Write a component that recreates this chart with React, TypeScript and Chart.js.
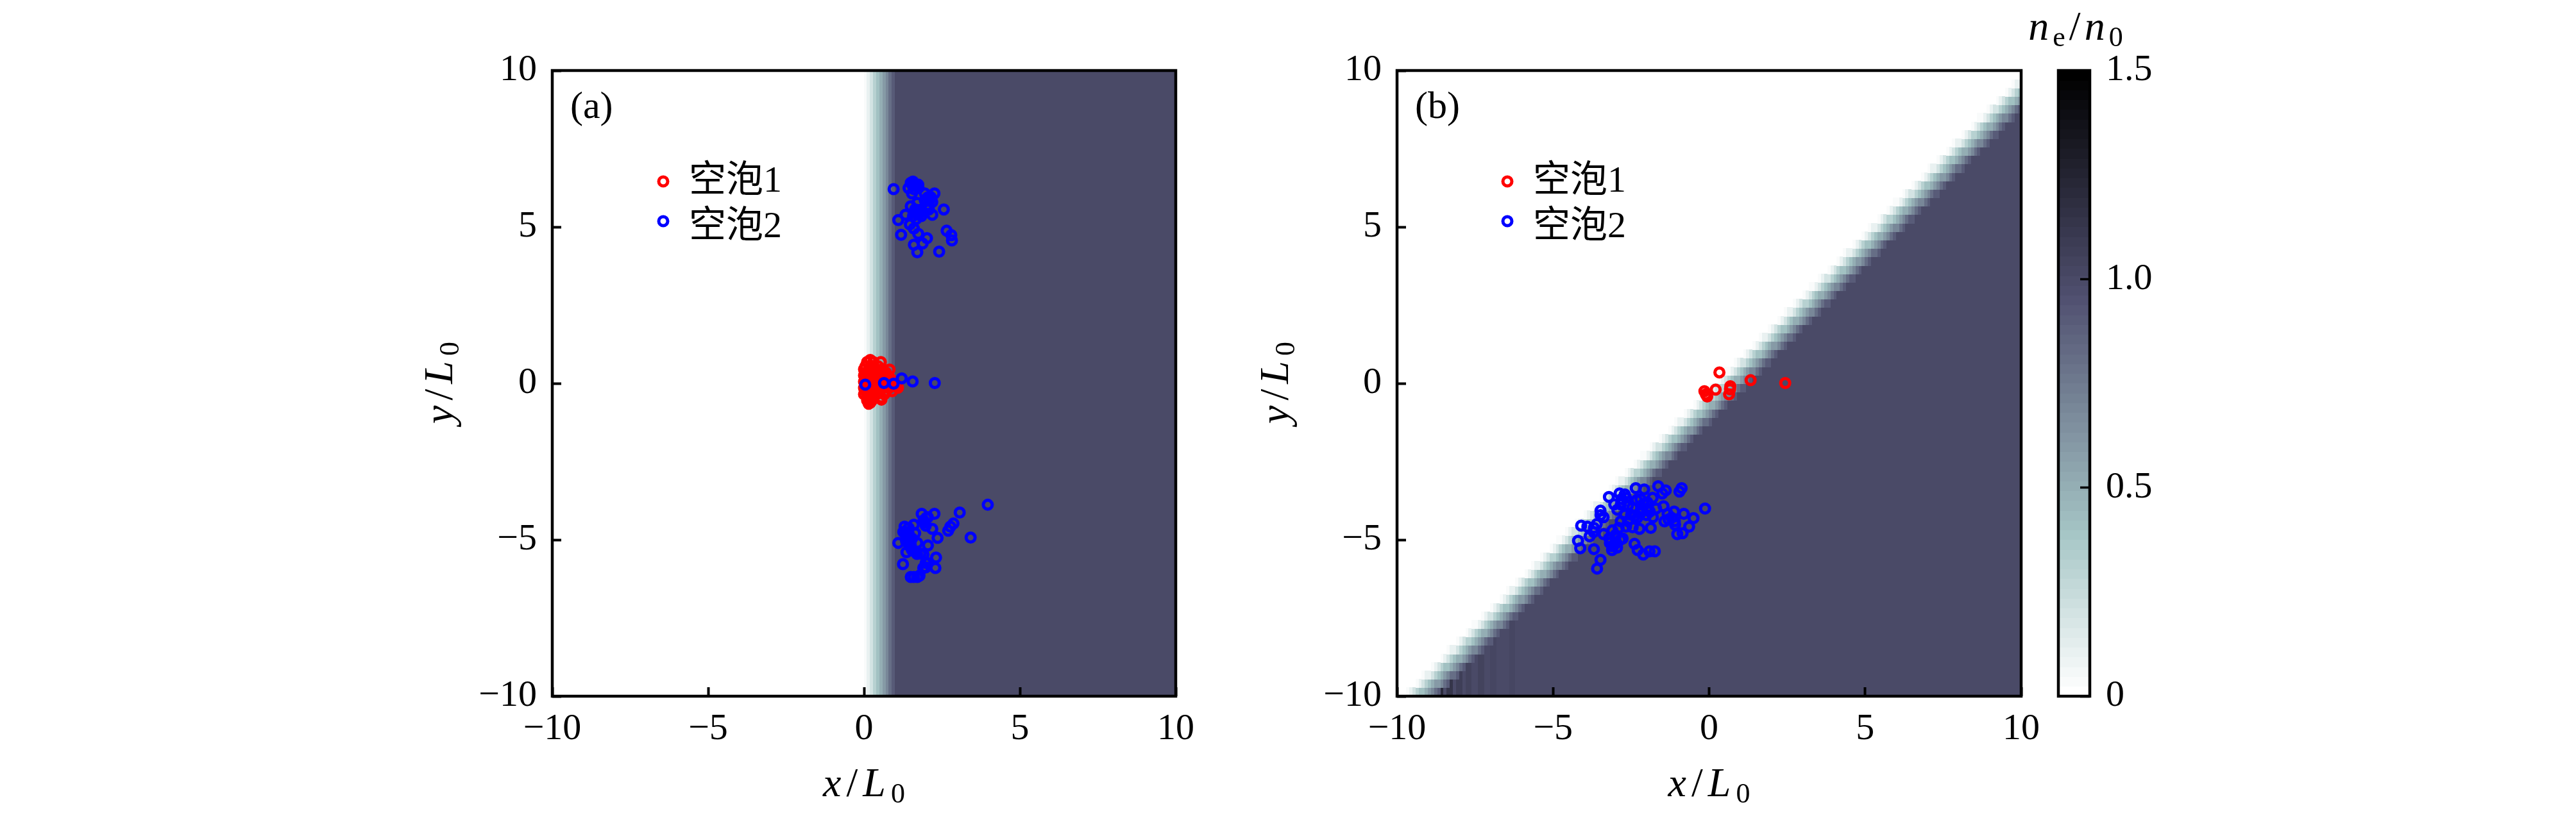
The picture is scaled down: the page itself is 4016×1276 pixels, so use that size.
import React, { useEffect, useRef } from "react";
import { Chart, registerables } from "chart.js";

Chart.register(...registerables);

const SERIF = '"Liberation Serif", "Noto Sans CJK SC", serif';
const legendNames = ["空泡1", "空泡2"];
const legendColors = ["#ff0000", "#0000ff"];
const axisTicks = [-10, -5, 0, 5, 10];
const barTicks = [0, 0.5, 1, 1.5];

// panel (a): bubble 1
const a1X = [0.2, 0.1, 0.3, 0.54, 0.05, 0.25, 0.45, 0.82, 0.0, 0.2, 0.4, 0.6, 0.05, 0.3, 0.5, 0.7, 0.0, 0.15, 0.35, 0.55, 0.75, 0.05, 0.25, 0.45, 0.65, 0.85, 0.0, 0.2, 0.4, 0.6, 0.8, 0.95, 0.05, 0.25, 0.45, 0.65, 0.9, 1.05, 0.0, 0.2, 0.4, 0.6, 0.8, 1.09, 0.05, 0.3, 0.5, 0.7, 0.9, 0.0, 0.2, 0.4, 0.65, 0.1, 0.3, 0.55, 0.1, 0.25, 0.56, 0.15, 0.2];
const a1Y = [0.75, 0.68, 0.68, 0.68, 0.55, 0.55, 0.55, 0.44, 0.45, 0.45, 0.45, 0.45, 0.35, 0.35, 0.35, 0.35, 0.25, 0.25, 0.25, 0.25, 0.25, 0.15, 0.15, 0.15, 0.15, 0.15, 0.05, 0.05, 0.05, 0.05, 0.05, 0.05, -0.05, -0.05, -0.05, -0.05, -0.05, -0.05, -0.15, -0.15, -0.15, -0.15, -0.15, -0.14, -0.25, -0.25, -0.25, -0.25, -0.25, -0.35, -0.35, -0.35, -0.35, -0.45, -0.45, -0.45, -0.55, -0.55, -0.52, -0.65, -0.62];

// panel (a): bubble 2
const a2X = [0.95, 1.5, 1.43, 1.57, 1.67, 1.54, 1.74, 1.95, 2.26, 2.12, 2.19, 1.98, 2.05, 2.56, 2.19, 1.5, 1.64, 1.33, 1.84, 1.57, 1.67, 1.1, 1.47, 1.6, 1.19, 1.74, 2.02, 1.6, 1.88, 1.71, 2.65, 2.8, 2.82, 2.41, 1.84, 2.08, 1.71, 2.15, 1.57, 0.04, 0.64, 0.95, 1.21, 1.56, 2.27, 3.97, 3.07, 3.42, 1.85, 2.26, 2.05, 1.91, 2.87, 2.77, 2.7, 2.19, 2.36, 1.98, 1.6, 1.3, 1.26, 1.43, 1.64, 1.36, 1.54, 1.1, 1.71, 1.5, 2.05, 1.36, 1.64, 1.81, 1.91, 2.31, 1.25, 1.98, 2.29, 1.5, 1.6, 1.71, 1.78, 1.98, 1.54, 1.43, 1.6, 1.62, 1.75, 1.95, 2.05, 2.1, 2.0, 1.8, 1.65, 1.75, 1.35, 1.4, 1.45, 1.35, 1.5, 1.6, 1.7, 1.45, 2.0, 1.95, 2.05, 1.9];
const a2Y = [6.21, 6.41, 6.24, 6.45, 6.31, 6.07, 6.35, 6.07, 6.07, 5.97, 5.8, 5.87, 5.7, 5.56, 5.39, 5.66, 5.56, 5.39, 5.35, 5.35, 5.25, 5.22, 5.08, 4.95, 4.75, 4.78, 4.64, 4.43, 4.47, 4.19, 4.88, 4.74, 4.57, 4.21, 5.49, 5.56, 5.77, 5.94, 6.31, -0.04, 0.01, -0.01, 0.16, 0.06, 0.01, -3.88, -4.13, -4.93, -4.17, -4.17, -4.28, -4.38, -4.48, -4.58, -4.71, -4.65, -4.94, -4.55, -4.52, -4.58, -4.75, -4.79, -4.79, -4.96, -4.96, -5.1, -5.1, -5.16, -5.18, -5.4, -5.37, -5.44, -5.47, -5.57, -5.78, -5.88, -5.9, -6.19, -6.19, -6.19, -6.15, -5.74, -5.33, -4.62, 6.38, 6.2, 6.25, 5.85, 5.95, 5.85, 5.6, 5.55, 5.45, 5.4, -4.75, -4.85, -4.95, -5.05, -5.25, -5.35, -5.45, -5.05, -4.3, -4.45, -5.75, -5.9];

// panel (b): bubble 1
const b1X = [0.33, 1.33, 2.44, -0.15, -0.06, 0.21, 0.68, 0.67, 0.64, -0.1];
const b1Y = [0.35, 0.1, 0.01, -0.25, -0.42, -0.2, -0.09, -0.19, -0.35, -0.35];

// panel (b): bubble 2
const b2X = [-0.13, -0.88, -0.95, -1.63, -1.39, -1.5, -2.35, -2.08, -0.5, -0.81, -0.64, -1.02, -0.85, -1.09, -1.12, -1.46, -1.33, -1.43, -1.81, -1.98, -2.32, -2.46, -2.15, -1.8, -1.87, -2.23, -2.01, -2.39, -2.87, -3.21, -2.66, -3.04, -2.83, -2.94, -3.48, -3.38, -3.48, -4.1, -3.9, -3.69, -3.83, -3.38, -4.2, -4.13, -3.69, -3.48, -3.59, -3.11, -2.97, -2.77, -3.18, -2.9, -2.66, -2.83, -2.39, -2.29, -2.11, -1.91, -1.74, -3.0, -3.07, -2.6, -2.5, -2.3, -2.2, -2.7, -2.0, -1.9, -3.1, -3.0, -2.85, -3.2, -3.1, -2.95, -3.7, -3.6, -2.8, -2.7, -1.7, -1.2, -1.1, -1.3, -2.6, -2.45, -2.1, -2.2];
const b2Y = [-4.0, -3.35, -3.46, -3.29, -3.42, -3.52, -3.35, -3.39, -4.31, -4.17, -4.58, -4.82, -4.79, -4.52, -4.1, -3.93, -4.17, -4.41, -3.66, -3.8, -3.73, -3.97, -4.0, -4.28, -4.62, -4.65, -4.21, -4.24, -3.52, -3.63, -3.66, -3.87, -3.87, -4.04, -4.07, -4.28, -4.21, -4.55, -4.58, -4.62, -4.89, -4.82, -5.03, -5.27, -5.3, -5.64, -5.92, -5.33, -5.1, -4.96, -5.1, -4.62, -4.58, -4.41, -5.13, -5.33, -5.47, -5.37, -5.37, -4.92, -5.2, -3.9, -4.2, -4.3, -3.7, -4.2, -4.0, -4.1, -4.7, -4.85, -5.0, -4.95, -5.2, -5.25, -4.75, -4.5, -3.7, -3.55, -4.0, -4.3, -4.4, -4.35, -4.4, -4.6, -3.85, -4.15];

// density edge of panel (a), read against x
const edgeAX = [0.03, 0.1, 0.2, 0.3, 0.4, 0.5, 0.6, 0.7, 0.8, 0.9, 1.0];
const edgeAN = [0.02, 0.1, 0.2, 0.3, 0.4, 0.5, 0.6, 0.7, 0.8, 0.9, 1.0];
// density edge of panel (b), read against x - y
const edgeBD = [0.15, 0.26, 0.38, 0.49, 0.6, 0.72, 0.84, 0.95, 1.07, 1.18, 1.3];
const edgeBN = [0.03, 0.1, 0.2, 0.3, 0.4, 0.5, 0.6, 0.7, 0.8, 0.9, 1.0];
// faint darker columns at the lower left of panel (b)
const stripeX = [-8.6, -8.3, -8.0, -7.7, -7.3, -6.9, -6.3];
const stripeN = [1.22, 1.14, 1.08, 1.05, 1.04, 1.03, 1.02];

// colour map stops: fraction of the 0-1.5 range, with r, g, b
const mapPos = [0, 0.254, 0.635, 1];
const mapR = [255, 166, 81, 0];
const mapG = [255, 198, 81, 0];
const mapB = [255, 198, 113, 0];
const mapLevels = 64;
const maxDensity = 1.5;

function levelColor(level: number) {
  const f = level / (mapLevels - 1);
  let k = 0;
  while (k < mapPos.length - 2 && f > mapPos[k + 1]) k++;
  const t = (f - mapPos[k]) / (mapPos[k + 1] - mapPos[k]);
  const c = (a: number[]) => Math.round(a[k] + (a[k + 1] - a[k]) * t);
  return `rgb(${c(mapR)},${c(mapG)},${c(mapB)})`;
}

function densityColor(v: number) {
  const level = Math.min(mapLevels - 1, Math.round((v / maxDensity) * (mapLevels - 1)));
  return levelColor(level);
}

function stepLookup(px: number[], pv: number[], q: number) {
  if (q < px[0]) return 0;
  let out = pv[0];
  for (let i = 0; i < px.length; i++) if (q >= px[i]) out = pv[i];
  return out;
}

function fieldA(x: number) {
  return stepLookup(edgeAX, edgeAN, x);
}

function fieldB(x: number, y: number) {
  const base = stepLookup(edgeBD, edgeBN, x - y);
  if (base < 1) return base;
  for (let i = 0; i < stripeX.length; i++) {
    if (Math.abs(x - stripeX[i]) < 0.1) return stripeN[i];
  }
  return base;
}

type Run = { text: string; style?: string; size?: number; dy?: number };

function drawRuns(ctx: CanvasRenderingContext2D, runs: Run[], cx: number, cy: number, angle: number, gap: number) {
  ctx.save();
  ctx.translate(cx, cy);
  ctx.rotate(angle);
  ctx.fillStyle = "#000";
  ctx.textBaseline = "alphabetic";
  ctx.textAlign = "left";
  const fontOf = (r: Run) => `${r.style || "normal"} ${r.size || 60}px ${SERIF}`;
  let total = 0;
  runs.forEach((r, i) => {
    ctx.font = fontOf(r);
    total += ctx.measureText(r.text).width + (i ? gap : 0);
  });
  let x = -total / 2;
  runs.forEach((r) => {
    ctx.font = fontOf(r);
    ctx.fillText(r.text, x, r.dy || 0);
    x += ctx.measureText(r.text).width + gap;
  });
  ctx.restore();
}

const xRuns: Run[] = [
  { text: "x", style: "italic", size: 64 },
  { text: "/", size: 64 },
  { text: "L", style: "italic", size: 64 },
  { text: "0", size: 44, dy: 10 },
];
const yRuns: Run[] = [
  { text: "y", style: "italic", size: 64 },
  { text: "/", size: 64 },
  { text: "L", style: "italic", size: 64 },
  { text: "0", size: 44, dy: 10 },
];
const barRuns: Run[] = [
  { text: "n", style: "italic", size: 64 },
  { text: "e", size: 44, dy: 10 },
  { text: "/", size: 64 },
  { text: "n", style: "italic", size: 64 },
  { text: "0", size: 44, dy: 10 },
];

type Box = { l: number; r: number; t: number; b: number };

function padding(box: Box, w: number, h: number) {
  return { left: box.l - w, right: 4016 - box.r, top: box.t, bottom: 1276 - box.b - h };
}

function framePlugin(box: Box) {
  return {
    id: "frame",
    afterDatasetsDraw(chart: any) {
      const { ctx } = chart;
      ctx.save();
      ctx.strokeStyle = "#000";
      ctx.lineWidth = 4.5;
      ctx.strokeRect(box.l, box.t, box.r - box.l, box.b - box.t);
      ctx.restore();
    },
  };
}

function panelChart(
  canvas: HTMLCanvasElement,
  box: Box,
  tag: string,
  redX: number[],
  redY: number[],
  blueX: number[],
  blueY: number[],
  yTitleX: number,
  legendMarkX: number,
  tagLeft: number,
  cell: (ctx: CanvasRenderingContext2D, sx: any, sy: any) => void
) {
  const toPts = (xs: number[], ys: number[]) => xs.map((x, i) => ({ x, y: ys[i] }));
  const point = (c: string) => ({
    borderColor: c,
    backgroundColor: "rgba(0,0,0,0)",
    pointBorderColor: c,
    pointBackgroundColor: "rgba(0,0,0,0)",
    borderWidth: 5,
    pointBorderWidth: 5,
    pointRadius: 7,
    pointStyle: "circle",
    showLine: false,
  });
  return new Chart(canvas, {
    type: "scatter",
    data: {
      datasets: [
        { label: legendNames[0], data: toPts(redX, redY), order: 1, ...point(legendColors[0]) },
        { label: legendNames[1], data: toPts(blueX, blueY), order: 0, ...point(legendColors[1]) },
      ],
    },
    options: {
      animation: false,
      responsive: false,
      devicePixelRatio: 1,
      events: [],
      layout: { padding: padding(box, 200, 150) },
      plugins: {
        tooltip: { enabled: false },
        legend: { display: false },
      },
      scales: {
        x: {
          type: "linear",
          min: -10,
          max: 10,
          position: "bottom",
          afterFit: (s: any) => { s.height = 150; },
          afterBuildTicks: (s: any) => { s.ticks = axisTicks.map((value) => ({ value })); },
          border: { display: false },
          grid: { drawOnChartArea: false, drawTicks: true, tickLength: -14, tickWidth: 4, tickColor: "#000" },
          ticks: {
            autoSkip: false,
            maxRotation: 0,
            padding: 31,
            color: "#000",
            font: { family: SERIF, size: 58 },
            callback: (v: any) => String(v).replace("-", "\u2212"),
          },
        },
        y: {
          type: "linear",
          min: -10,
          max: 10,
          position: "left",
          afterFit: (s: any) => { s.width = 200; },
          afterBuildTicks: (s: any) => { s.ticks = axisTicks.map((value) => ({ value })); },
          border: { display: false },
          grid: { drawOnChartArea: false, drawTicks: true, tickLength: -14, tickWidth: 4, tickColor: "#000" },
          ticks: {
            autoSkip: false,
            padding: 38,
            color: "#000",
            font: { family: SERIF, size: 58 },
            callback: (v: any) => String(v).replace("-", "\u2212"),
          },
        },
      },
    },
    plugins: [
      {
        id: "field",
        beforeDraw(chart: any) {
          const { ctx, chartArea: a } = chart;
          ctx.save();
          ctx.beginPath();
          ctx.rect(a.left, a.top, a.right - a.left, a.bottom - a.top);
          ctx.clip();
          cell(ctx, chart.scales.x, chart.scales.y);
          ctx.restore();
        },
        afterDraw(chart: any) {
          const { ctx } = chart;
          ctx.save();
          ctx.fillStyle = "#000";
          ctx.font = `60px ${SERIF}`;
          ctx.textBaseline = "middle";
          ctx.textAlign = "left";
          ctx.fillText(tag, tagLeft, 168);
          // legend rows: ring and name
          const markY = [283, 345];
          const textBase = [299, 370];
          legendNames.forEach((name, i) => {
            ctx.beginPath();
            ctx.arc(legendMarkX, markY[i], 7, 0, Math.PI * 2);
            ctx.strokeStyle = legendColors[i];
            ctx.lineWidth = 5;
            ctx.stroke();
            ctx.fillStyle = "#000";
            ctx.font = `58px ${SERIF}`;
            ctx.textBaseline = "alphabetic";
            ctx.fillText(name, legendMarkX + 40, textBase[i]);
          });
          ctx.restore();
          drawRuns(ctx, xRuns, (box.l + box.r) / 2, 1242, 0, 8);
          drawRuns(ctx, yRuns, yTitleX, 597, -Math.PI / 2, 8);
        },
      },
      framePlugin(box),
    ],
  } as any);
}

function paintA(ctx: CanvasRenderingContext2D, sx: any, sy: any) {
  const top = sy.getPixelForValue(10);
  const bottom = sy.getPixelForValue(-10);
  for (let i = 0; i < 200; i++) {
    const x0 = -10 + i * 0.1;
    const v = fieldA(x0 + 0.05);
    if (v <= 0) continue;
    const p0 = Math.floor(sx.getPixelForValue(x0));
    const p1 = Math.ceil(sx.getPixelForValue(x0 + 0.1));
    ctx.fillStyle = densityColor(v);
    ctx.fillRect(p0, top, p1 - p0, bottom - top);
  }
}

function paintB(ctx: CanvasRenderingContext2D, sx: any, sy: any) {
  const dy = 0.27;
  const rows = Math.ceil(20 / dy);
  for (let j = 0; j < rows; j++) {
    const y0 = -10 + j * dy;
    const q0 = Math.ceil(sy.getPixelForValue(y0));
    const q1 = Math.floor(sy.getPixelForValue(y0 + dy));
    for (let i = 0; i < 200; i++) {
      const x0 = -10 + i * 0.1;
      const v = fieldB(x0 + 0.05, y0 + dy / 2);
      if (v <= 0) continue;
      const p0 = Math.floor(sx.getPixelForValue(x0));
      const p1 = Math.ceil(sx.getPixelForValue(x0 + 0.1));
      ctx.fillStyle = densityColor(v);
      ctx.fillRect(p0, q1, p1 - p0, q0 - q1);
    }
  }
}

function barChart(canvas: HTMLCanvasElement, box: Box) {
  return new Chart(canvas, {
    type: "scatter",
    data: { datasets: [{ data: [] }] },
    options: {
      animation: false,
      responsive: false,
      devicePixelRatio: 1,
      events: [],
      layout: { padding: { left: box.l, right: 4016 - box.r - 150, top: box.t, bottom: 1276 - box.b } },
      plugins: { legend: { display: false }, tooltip: { enabled: false } },
      scales: {
        x: { type: "linear", display: false, min: 0, max: 1 },
        y: {
          type: "linear",
          min: 0,
          max: maxDensity,
          position: "right",
          afterFit: (s: any) => { s.width = 150; },
          afterBuildTicks: (s: any) => { s.ticks = barTicks.map((value) => ({ value })); },
          border: { display: false },
          grid: { drawOnChartArea: false, drawTicks: true, tickLength: -15, tickWidth: 3.5, tickColor: "#000" },
          ticks: {
            autoSkip: false,
            padding: 40,
            color: "#000",
            font: { family: SERIF, size: 58 },
            callback: (v: any) => (v === 0 ? "0" : Number(v).toFixed(1)),
          },
        },
      },
    },
    plugins: [
      {
        id: "ramp",
        beforeDraw(chart: any) {
          const { ctx, chartArea: a, scales } = chart;
          for (let i = 0; i < mapLevels; i++) {
            const q0 = Math.ceil(scales.y.getPixelForValue((i / mapLevels) * maxDensity));
            const q1 = Math.floor(scales.y.getPixelForValue(((i + 1) / mapLevels) * maxDensity));
            ctx.fillStyle = levelColor(i);
            ctx.fillRect(a.left, q1, a.right - a.left, q0 - q1);
          }
        },
        afterDraw(chart: any) {
          drawRuns(chart.ctx, barRuns, 3236, 62, 0, 6);
        },
      },
      framePlugin(box),
    ],
  } as any);
}

const boxA: Box = { l: 861, r: 1833, t: 110, b: 1086 };
const boxB: Box = { l: 2178, r: 3151, t: 110, b: 1086 };
const boxC: Box = { l: 3209, r: 3258, t: 110, b: 1086 };

export default function App() {
  const refA = useRef<HTMLCanvasElement>(null);
  const refB = useRef<HTMLCanvasElement>(null);
  const refC = useRef<HTMLCanvasElement>(null);
  useEffect(() => {
    const charts = [
      panelChart(refA.current!, boxA, "(a)", a1X, a1Y, a2X, a2Y, 705, 1034, 889, paintA),
      panelChart(refB.current!, boxB, "(b)", b1X, b1Y, b2X, b2Y, 2008, 2350, 2206, paintB),
      barChart(refC.current!, boxC),
    ];
    return () => charts.forEach((c) => c.destroy());
  }, []);
  const st: React.CSSProperties = { position: "absolute", left: 0, top: 0 };
  return (
    <div style={{ position: "absolute", left: 0, top: 0, width: 4016, height: 1276, overflow: "hidden", background: "#fff" }}>
      <canvas ref={refA} width={4016} height={1276} style={st} />
      <canvas ref={refB} width={4016} height={1276} style={st} />
      <canvas ref={refC} width={4016} height={1276} style={st} />
    </div>
  );
}
